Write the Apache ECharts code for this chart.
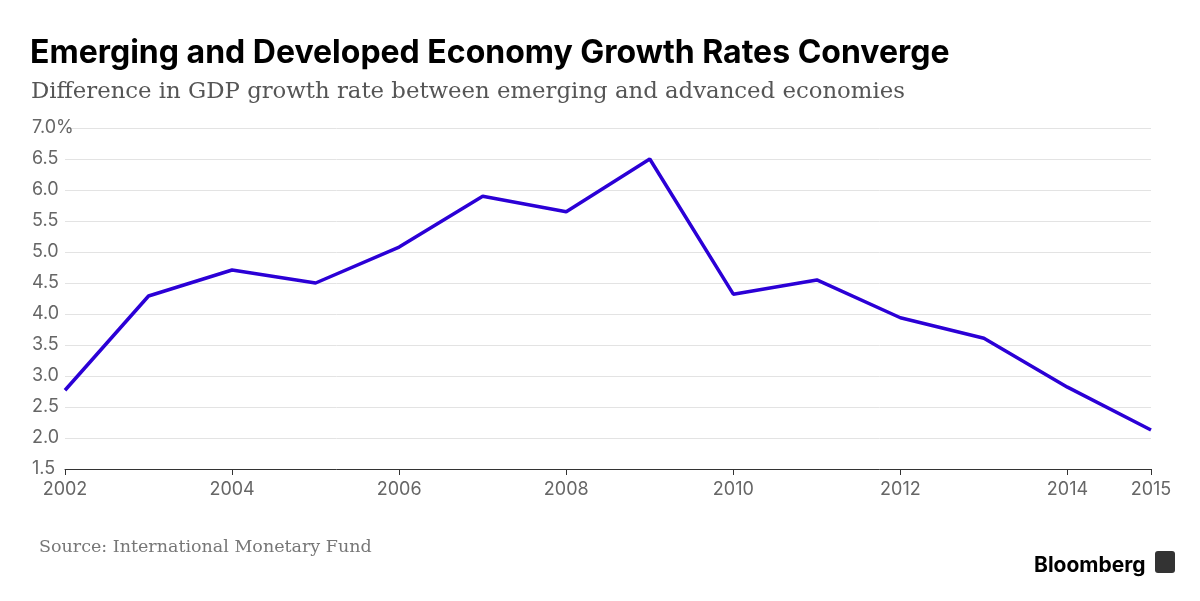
<!DOCTYPE html>
<html>
<head>
<meta charset="utf-8">
<script src="https://cdn.jsdelivr.net/npm/echarts@6/dist/echarts.min.js"></script>
<style>html,body{margin:0;height:100%;background:#fff}#c{width:1200px;height:601px}</style>
</head>
<body>
<div id="c"></div>
<script>
var years = ['2002','2003','2004','2005','2006','2007','2008','2009','2010','2011','2012','2013','2014','2015'];
var gdpGap = [2.77, 4.29, 4.71, 4.50, 5.08, 5.90, 5.65, 6.50, 4.32, 4.55, 3.94, 3.61, 2.82, 2.13];
var shownYears = ['2002','2004','2006','2008','2010','2012','2014','2015'];

var chart = echarts.init(document.getElementById('c'));
function showYear(i, v) { return shownYears.indexOf(v) >= 0; }
chart.setOption({
    animation: false,
    title: [
        { text: 'Emerging and Developed Economy Growth Rates Converge', left: 25, top: 32,
          textStyle: { fontFamily: 'Inter', fontWeight: 'bold', fontSize: 32, color: '#000' } },
        { text: 'Difference in GDP growth rate between emerging and advanced economies', left: 26, top: 76,
          textStyle: { fontFamily: 'DejaVu Serif', fontWeight: 'normal', fontSize: 22.8, color: '#555' } },
        { text: 'Source: International Monetary Fund', left: 34, top: 533,
          textStyle: { fontFamily: 'DejaVu Serif', fontWeight: 'normal', fontSize: 17.5, color: '#777' } },
        { text: 'Bloomberg', left: 1029, top: 550,
          textStyle: { fontFamily: 'Inter', fontWeight: 'bold', fontSize: 21, color: '#000' } }
    ],
    grid: { left: 65, right: 49, top: 128, bottom: 132 },
    xAxis: {
        type: 'category', data: years, boundaryGap: false,
        axisLine: { lineStyle: { color: '#333' } },
        axisTick: { interval: showYear, length: 6, lineStyle: { color: '#333' } },
        axisLabel: { interval: showYear, fontFamily: 'Inter', fontSize: 18, color: '#666', margin: 12 },
        splitLine: { show: false }
    },
    yAxis: {
        type: 'value', min: 1.5, max: 7, interval: 0.5,
        axisLine: { show: false }, axisTick: { show: false },
        axisLabel: { fontFamily: 'Inter', fontSize: 18, color: '#666', align: 'left', margin: 33,
            formatter: function (v) { return v === 7 ? '7.0%' : v.toFixed(1); } },
        splitLine: { lineStyle: { color: '#e3e3e3' } }
    },
    series: [{
        type: 'line', data: gdpGap, symbol: 'none',
        lineStyle: { color: '#2b00d6', width: 3.5 }
    }]
});
</script>
<div style="position:absolute;left:1155px;top:551px;width:20px;height:22px;background:#333;border-radius:3px"></div>
</body>
</html>
